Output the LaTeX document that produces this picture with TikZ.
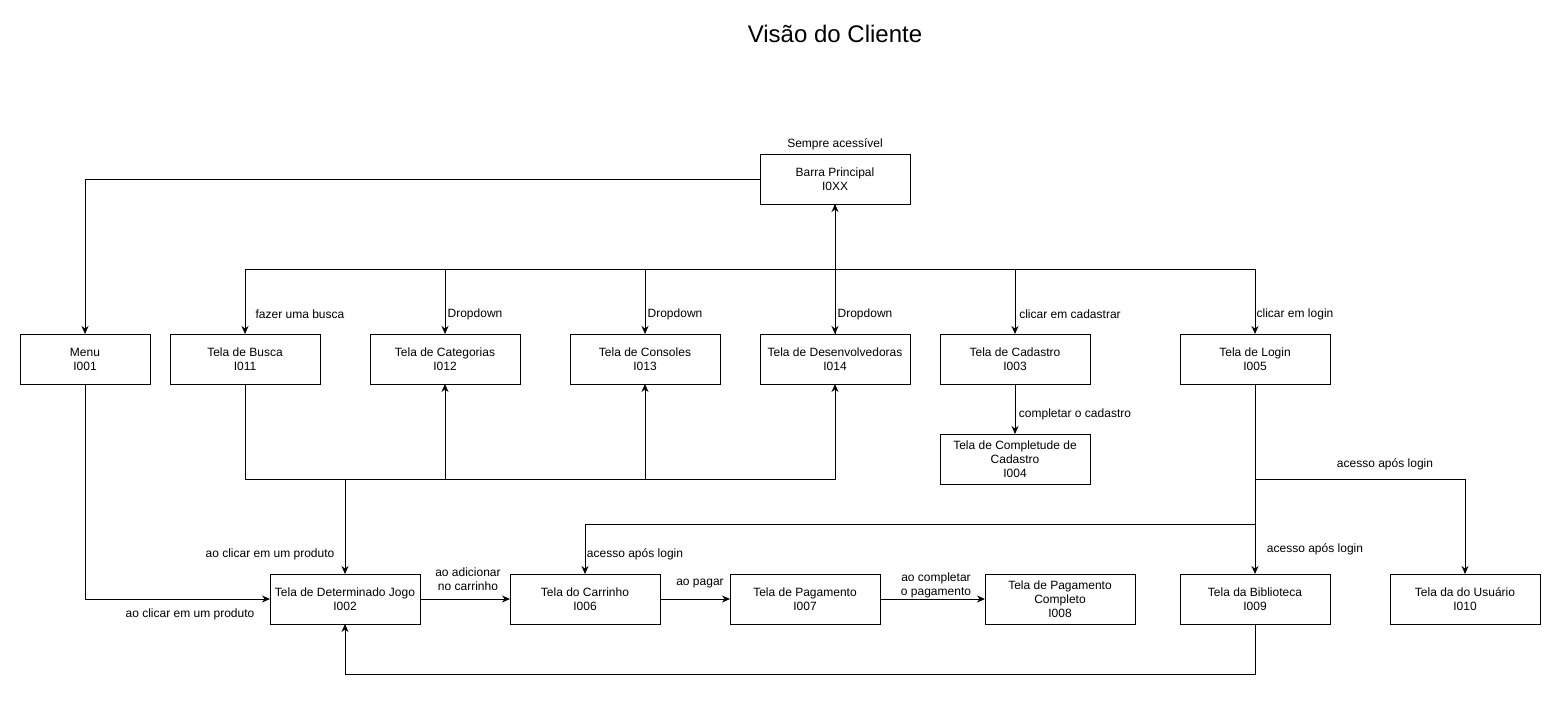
\documentclass[tikz,border=0pt]{standalone}
\usepackage{fontspec}
\setmainfont{Liberation Sans}
\usetikzlibrary{positioning,arrows.meta}

\begin{document}
\begin{tikzpicture}[
    x=1pt, y=-1pt,
    box/.style={draw, line width=1pt, align=center, inner sep=0pt, outer sep=0pt,
                font=\fontsize{12}{14}\selectfont,
                minimum width=150pt, minimum height=50pt},
    lbl/.style={align=center, inner sep=0pt, font=\fontsize{12}{14}\selectfont},
    flow/.style={-{Stealth[length=8pt, width=7pt]}, line width=1pt}
  ]
    \useasboundingbox (0,0) rectangle (1561,704);

    \node[font=\fontsize{24}{28}\selectfont] (title) at (835,34) {Visão do Cliente};

    % top row
    \node[box] (barra) at (835,179) {Barra Principal\\I0XX};
    \node[box, minimum width=130pt] (menu) at (85,359) {Menu\\I001};
    \node[box, right=20pt of menu]  (busca) {Tela de Busca\\I011};
    \node[box, right=50pt of busca] (categ) {Tela de Categorias\\I012};
    \node[box, right=50pt of categ] (cons)  {Tela de Consoles\\I013};
    \node[box, right=40pt of cons]  (dev)   {Tela de Desenvolvedoras\\I014};
    \node[box, right=30pt of dev]   (cad)   {Tela de Cadastro\\I003};
    \node[box, right=90pt of cad]   (login) {Tela de Login\\I005};
    \node[box, below=50pt of cad]   (compl) {Tela de Completude de\\Cadastro\\I004};

    % bottom row
    \node[box] (jogo) at (345,599) {Tela de Determinado Jogo\\I002};
    \node[box, right=90pt of jogo]  (carr)  {Tela do Carrinho\\I006};
    \node[box, right=70pt of carr]  (pag)   {Tela de Pagamento\\I007};
    \node[box, right=105pt of pag]  (pagok) {Tela de Pagamento\\Completo\\I008};
    \node[box] (bibl) at (1255,599) {Tela da Biblioteca\\I009};
    \node[box, right=60pt of bibl]  (user)  {Tela da do Usuário\\I010};

    % labels
    \node[lbl] (l-sempre) at (835,144) {Sempre acessível};
    \node[lbl] (l-busca)  at (300,314) {fazer uma busca};
    \node[lbl] (l-drop1)  at (475,314) {Dropdown};
    \node[lbl] (l-drop2)  at (675,314) {Dropdown};
    \node[lbl] (l-drop3)  at (865,314) {Dropdown};
    \node[lbl] (l-cad)    at (1070,314) {clicar em cadastrar};
    \node[lbl] (l-login)  at (1295,314) {clicar em login};
    \node[lbl] (l-compl)  at (1075,414) {completar o cadastro};
    \node[lbl] (l-user)   at (1385,464) {acesso após login};
    \node[lbl] (l-bibl)   at (1315,549) {acesso após login};
    \node[lbl] (l-carr)   at (635,554) {acesso após login};
    \node[lbl] (l-prod1)  at (270,554) {ao clicar em um produto};
    \node[lbl] (l-prod2)  at (190,614) {ao clicar em um produto};
    \node[lbl] (l-add)    at (468,579) {ao adicionar\\no carrinho};
    \node[lbl] (l-pagar)  at (700,584) {ao pagar};
    \node[lbl] (l-pagok)  at (936,585) {ao completar\\o pagamento};

    \draw[flow] (barra.west) -| (menu.north);
    \draw[flow] (barra.south) -- ++(0,65) -| (busca.north);
    \draw[flow] (barra.south) -- ++(0,65) -| (categ.north);
    \draw[flow] (barra.south) -- ++(0,65) -| (cons.north);
    \draw[flow] (barra.south) -- (dev.north);
    \draw[flow] (barra.south) -- ++(0,65) -| (cad.north);
    \draw[flow] (barra.south) -- ++(0,65) -| (login.north);
    \draw[flow] (dev.north) -- (barra.south);

    \draw[flow] (busca.south) -- ++(0,95) -| (categ.south);
    \draw[flow] (busca.south) -- ++(0,95) -| (cons.south);
    \draw[flow] (busca.south) -- ++(0,95) -| (dev.south);
    \draw[flow] (busca.south) -- ++(0,95) -| (jogo.north);

    \draw[flow] (cad) -- (compl);
    \draw[flow] (menu.south) |- (jogo.west);
    \draw[flow] (jogo) -- (carr);
    \draw[flow] (carr) -- (pag);
    \draw[flow] (pag) -- (pagok);

    \draw[flow] (login) -- (bibl);
    \draw[flow] (login.south) -- ++(0,95) -| (user.north);
    \draw[flow] (login.south) -- ++(0,140) -| (carr.north);
    \draw[flow] (bibl.south) -- ++(0,50) -| (jogo.south);
  \end{tikzpicture}
\end{document}
